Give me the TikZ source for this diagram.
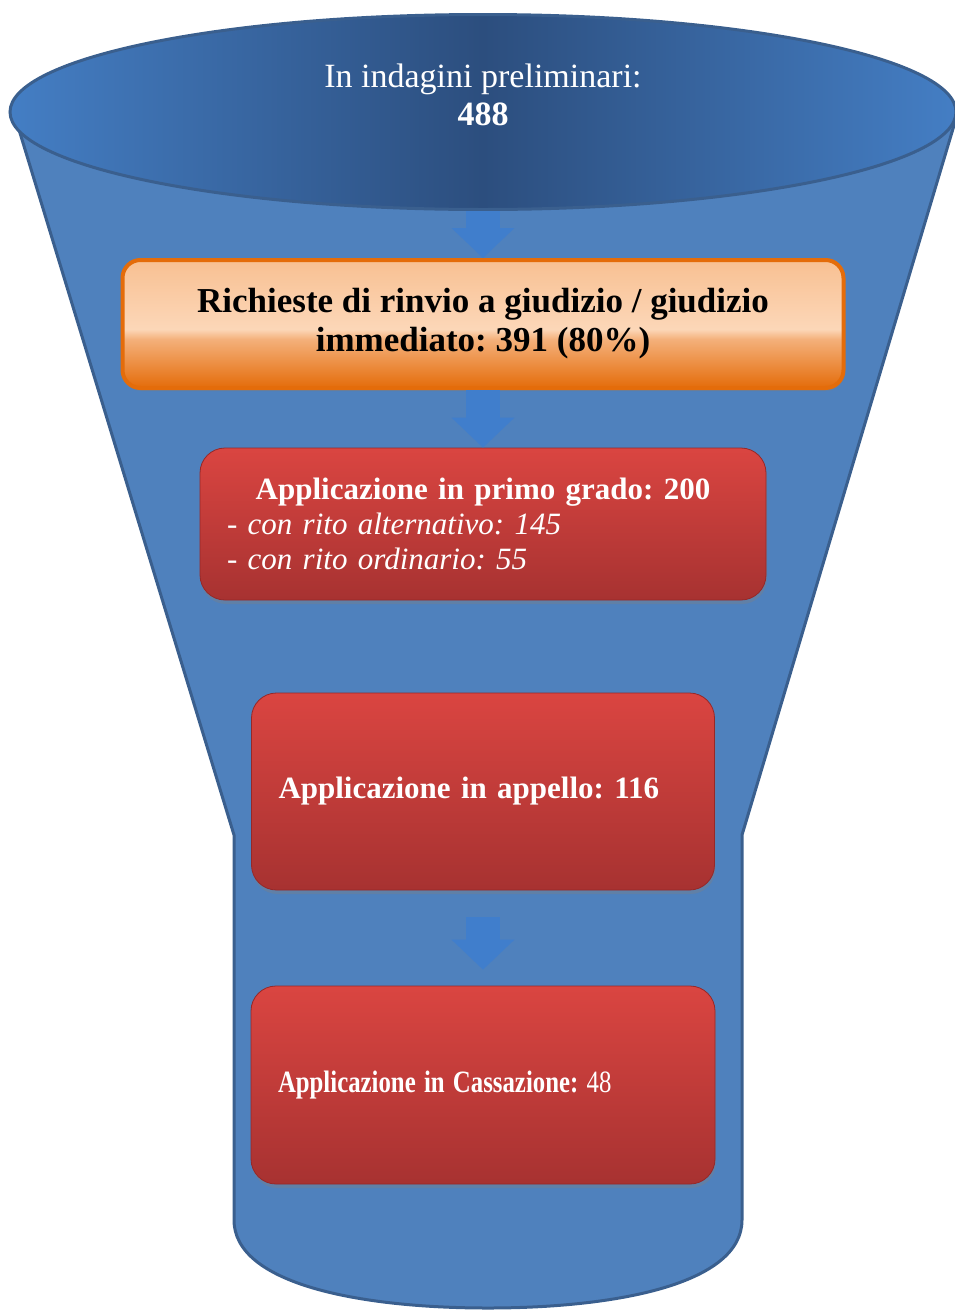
\documentclass[tikz,border=0pt]{standalone}
\usepackage{fontspec}
\setmainfont{Liberation Serif}
\frenchspacing
\usetikzlibrary{positioning,arrows.meta,shapes.geometric,shadows}
\definecolor{funnelblue}{RGB}{79,129,189}
\definecolor{funnelline}{RGB}{58,95,142}
\definecolor{rimlight}{RGB}{68,126,196}
\definecolor{rimdark}{RGB}{44,78,126}
\definecolor{arrowblue}{RGB}{64,126,204}
\definecolor{orangeline}{RGB}{228,108,10}
\definecolor{orangetop}{RGB}{248,192,146}
\definecolor{orangepale}{RGB}{252,215,184}
\definecolor{orangemid}{RGB}{244,176,122}
\definecolor{redtop}{RGB}{218,69,65}
\definecolor{redbottom}{RGB}{167,50,49}
\definecolor{redline}{RGB}{150,40,40}
\pgfdeclareverticalshading{orangeglow}{100bp}{color(0bp)=(orangeline); color(25bp)=(orangeline); color(44bp)=(orangemid); color(48bp)=(orangepale); color(75bp)=(orangetop); color(100bp)=(orangetop)}
\tikzset{
  funnelbody/.style={fill=funnelblue, draw=funnelline, line width=3pt, line join=round},
  mouthnode/.style={ellipse, draw=funnelline, line width=3pt, left color=rimlight, right color=rimlight, middle color=rimdark, minimum width=946pt, minimum height=195pt, text=white, font=\fontsize{34}{38}\selectfont},
  stagebox/.style={draw=orangeline, line width=4pt, rounded corners=18pt, shading=orangeglow, minimum width=721pt, minimum height=128pt, align=center, font=\fontsize{35}{39}\selectfont\bfseries, drop shadow={shadow xshift=1pt, shadow yshift=-3pt, opacity=0.3}},
  redbox/.style={draw=redline, line width=0.8pt, rounded corners=25pt, top color=redtop, bottom color=redbottom, text=white, align=left, font=\fontsize{31}{35}\selectfont, drop shadow={shadow xshift=1pt, shadow yshift=-4pt, opacity=0.35}},
  flowarrow/.style={-{Triangle[width=63pt, length=30pt, line width=0pt]}, line width=34pt, arrowblue}
}
\begin{document}
\begin{tikzpicture}[x=1pt, y=-1pt]
  \useasboundingbox (0,0) rectangle (955,1310);
  \clip (0,0) rectangle (955,1310);
  % funnel body
  \path[funnelbody] (13,110) -- (234,835) -- (234,1220)
    .. controls (234,1284) and (360,1308) .. (488,1308)
    .. controls (616,1308) and (742,1284) .. (742,1220)
    -- (742,835) -- (958,112) -- cycle;
  % mouth of the funnel
  \node[mouthnode] (mouth) at (483,112) {\raisebox{7pt}[0pt][0pt]{\begin{tabular}{@{}c@{}}In indagini preliminari:\\\textbf{488}\end{tabular}}};
  % stages
  \node[stagebox] (richieste) at (483,324) {Richieste di rinvio a giudizio / giudizio\\immediato: 391 (80\%)};
  \node[redbox, minimum width=566pt, minimum height=152pt, text width=512pt] (primo) at (483,524)
    {{\centering\bfseries Applicazione in primo grado: 200\par}\itshape - con rito alternativo: 145\\- con rito ordinario: 55};
  \node[redbox, minimum width=463pt, minimum height=197pt, text width=409pt] (appello) at (483,791.5)
    {\textbf{Applicazione in appello: 116}};
  \node[redbox, minimum width=464pt, minimum height=198pt, text width=410pt] (cassazione) at (483,1085)
    {\scalebox{0.8}[1]{\textbf{Applicazione in Cassazione:} 48}};
  % arrows
  \draw[flowarrow] (mouth.south) -- (richieste.north);
  \draw[flowarrow] (richieste.south) -- (primo.north);
  \draw[flowarrow, shorten <=27pt, shorten >=16pt] (appello.south) -- (cassazione.north);
\end{tikzpicture}
\end{document}
